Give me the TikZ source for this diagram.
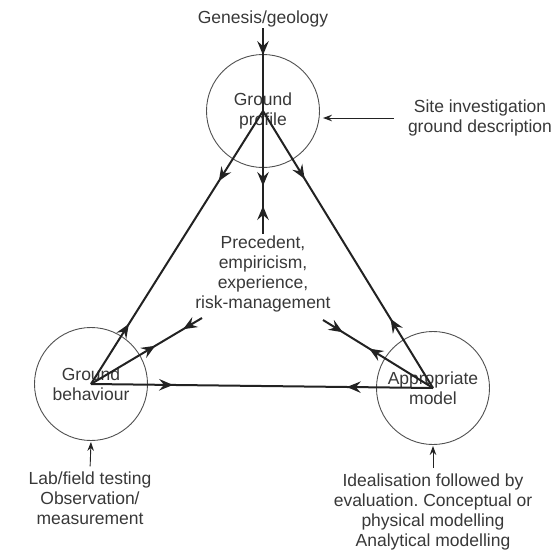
\documentclass[tikz,border=0pt]{standalone}
\usepackage{fontspec}
\setmainfont{Liberation Sans}
\usetikzlibrary{arrows.meta,decorations.markings}
\frenchspacing

\definecolor{textgray}{HTML}{383838}
\definecolor{linegray}{HTML}{222222}
\definecolor{circgray}{HTML}{505050}

\tikzset{
  midtip/.tip={Stealth[length=14pt,width=11.5pt,inset=5pt]},
  txt/.style={font=\fontsize{17.5}{20}\selectfont, text=textgray, align=center, inner sep=1pt},
  station/.style={circle, draw=circgray, line width=0.9pt, minimum size=113pt, inner sep=0pt, txt},
  link/.style={color=linegray, line width=2pt},
  fwd/.style={postaction={decorate, decoration={markings, mark=at position #1 with {\arrow{midtip}}}}},
  bwd/.style={postaction={decorate, decoration={markings, mark=at position #1 with {\arrowreversed{midtip}}}}},
  side/.style={color=linegray, line width=0.9pt, -{Stealth[length=9pt,width=6.5pt,inset=3pt]}}
}

\begin{document}
\begin{tikzpicture}[x=1pt, y=-1pt]
  \useasboundingbox (0,0) rectangle (553,551);

  % the three stations of the triangle
  \node[station] (tc) at (263,111) {Ground\\profile};
  \node[station] (lc) at (91,384) {Ground\\behaviour};
  \node[station] (rc) at (433,388) {Appropriate\\model};

  % labels
  \node[txt] (gen) at (263,19) {Genesis/geology};
  \node[txt] (prec) at (263,273.5) {Precedent,\\empiricism,\\experience,\\risk-management};
  \node[txt] (site) at (480,118) {Site investigation\\ground description};
  \node[txt] (lab) at (90,498) {Lab/field testing\\Observation/\\measurement};
  \node[txt] (ideal) at (433,511.5) {Idealisation followed by\\evaluation. Conceptual or\\physical modelling\\Analytical modelling};

  % free ends of the links towards the central text
  \coordinate (lend) at (202,318);
  \coordinate (rend) at (323,320);

  % sides of the triangle
  \draw[link, fwd=0.257, bwd=0.78] (tc.center) -- (lc.center);
  \draw[link, fwd=0.245, bwd=0.75] (tc.center) -- (rc.center);
  \draw[link, fwd=0.24, bwd=0.748] (lc.center) -- (rc.center);

  % links to the central experience text
  \draw[link, fwd=0.13, fwd=0.766, bwd=0.863] (gen.south) -- (prec.north);
  \draw[link, fwd=0.58, bwd=0.83] (lc.center) -- (lend);
  \draw[link, fwd=0.58, bwd=0.82] (rc.center) -- (rend);

  % inputs to each station
  \draw[side, shorten <=13pt, shorten >=3pt] (site.west) -- (site.west -| tc.east);
  \draw[side, shorten <=4pt, shorten >=1pt] (lab.north) -- (lc.south);
  \draw[side, shorten <=4pt, shorten >=1pt] (ideal.north) -- (rc.south);
\end{tikzpicture}
\end{document}
